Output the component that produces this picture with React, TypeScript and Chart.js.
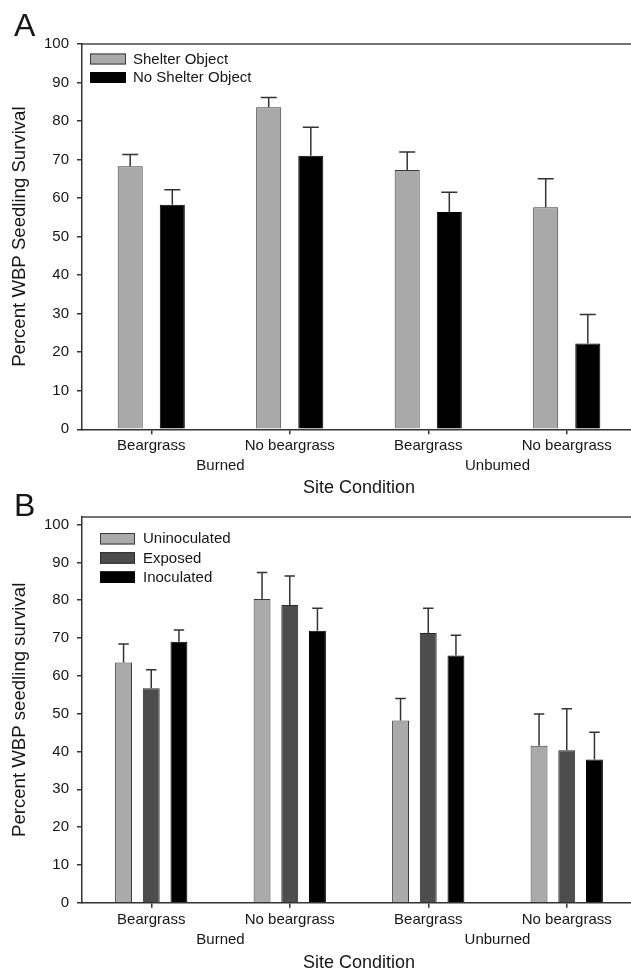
import React, { useEffect, useRef } from 'react';
import { Chart, registerables } from 'chart.js';

Chart.register(...registerables);

// ---------- data ----------
const categories = ['Beargrass', 'No beargrass', 'Beargrass', 'No beargrass'];
const groupLabelsA = ['Burned', 'Unbumed'];
const groupLabelsB = ['Burned', 'Unburned'];

const shelterValues = [68.3, 83.6, 67.3, 57.6];
const shelterErrors = [3.0, 2.5, 4.7, 7.4];
const noShelterValues = [58.3, 71.0, 56.4, 22.3];
const noShelterErrors = [3.9, 7.4, 5.1, 7.5];

const uninoculatedValues = [63.5, 80.3, 48.2, 41.5];
const uninoculatedErrors = [4.9, 7.0, 5.8, 8.4];
const exposedValues = [56.7, 78.7, 71.3, 40.3];
const exposedErrors = [4.9, 7.7, 6.6, 11.0];
const inoculatedValues = [69.0, 71.9, 65.4, 37.9];
const inoculatedErrors = [3.1, 6.0, 5.3, 7.2];

const yTickStep = 10;

const FONT = '"Liberation Sans", Arial, Helvetica, sans-serif';
const TEXT = '#161616';
const AXIS = '#333333';

// ---------- plugins ----------
const errorBarsPlugin = {
  id: 'errorBars',
  afterDatasetsDraw(chart: any, _args: any, opts: any) {
    const { ctx } = chart;
    const yScale = chart.scales.y;
    ctx.save();
    ctx.strokeStyle = opts.color || AXIS;
    ctx.lineWidth = opts.lineWidth || 1.5;
    chart.data.datasets.forEach((ds: any, i: number) => {
      const meta = chart.getDatasetMeta(i);
      meta.data.forEach((bar: any, j: number) => {
        const v = ds.data[j];
        const e = ds.errors ? ds.errors[j] : 0;
        const top = yScale.getPixelForValue(v + e);
        const half = (bar.width * (opts.capRatio || 0.6)) / 2;
        ctx.beginPath();
        ctx.moveTo(bar.x, bar.y);
        ctx.lineTo(bar.x, top);
        ctx.moveTo(bar.x - half, top);
        ctx.lineTo(bar.x + half, top);
        ctx.stroke();
      });
    });
    ctx.restore();
  },
};

const insideLegendPlugin = {
  id: 'insideLegend',
  afterDatasetsDraw(chart: any, _args: any, opts: any) {
    const { ctx, chartArea } = chart;
    ctx.save();
    ctx.font = `${opts.fontSize}px ${FONT}`;
    ctx.textBaseline = 'middle';
    chart.data.datasets.forEach((ds: any, i: number) => {
      const x = chartArea.left + opts.offsetX;
      const y = chartArea.top + opts.offsetY + i * opts.rowGap;
      ctx.fillStyle = ds.backgroundColor;
      ctx.fillRect(x, y, opts.boxW, opts.boxH);
      ctx.strokeStyle = ds.borderColor;
      ctx.lineWidth = 1;
      ctx.strokeRect(x + 0.5, y + 0.5, opts.boxW - 1, opts.boxH - 1);
      ctx.fillStyle = TEXT;
      ctx.fillText(ds.label, x + opts.boxW + opts.textGap, y + opts.boxH / 2 + 0.5);
    });
    ctx.restore();
  },
};

const topFramePlugin = {
  id: 'topFrame',
  afterDraw(chart: any) {
    const { ctx, chartArea } = chart;
    ctx.save();
    ctx.strokeStyle = '#444';
    ctx.lineWidth = 1.5;
    ctx.beginPath();
    ctx.moveTo(chartArea.left, chartArea.top);
    ctx.lineTo(chartArea.right, chartArea.top);
    ctx.stroke();
    ctx.restore();
  },
};

// ---------- config builder ----------
function buildConfig(p: any) {
  return {
    type: 'bar',
    data: {
      labels: categories,
      datasets: p.datasets.map((d: any) => ({
        label: d.label,
        data: d.values,
        errors: d.errors,
        backgroundColor: d.color,
        borderColor: d.border,
        borderWidth: 1,
        categoryPercentage: p.catPct,
        barPercentage: p.barPct,
        xAxisID: 'x',
        yAxisID: 'y',
      })),
    },
    options: {
      responsive: false,
      animation: false,
      layout: { padding: { top: p.padTop, left: 0, right: 0, bottom: 0 } },
      plugins: {
        legend: { display: false },
        tooltip: { enabled: false },
        title: { display: false },
        errorBars: { color: AXIS, lineWidth: 1.5, capRatio: p.capRatio },
        insideLegend: p.legend,
      },
      scales: {
        x: {
          type: 'category',
          offset: true,
          weight: 0,
          grid: { display: true, offset: false, drawOnChartArea: false, drawTicks: true, tickLength: 5, color: AXIS, lineWidth: 1.5 },
          border: { display: true, color: AXIS, width: 1.5 },
          ticks: { color: TEXT, font: { family: FONT, size: 15 }, padding: 3, maxRotation: 0, autoSkip: false },
          afterFit(scale: any) { scale.height = 26; },
        },
        x2: {
          type: 'linear',
          position: 'bottom',
          weight: 1,
          offset: false,
          min: -0.5,
          max: categories.length - 0.5,
          grid: { display: false, offset: false, drawTicks: false },
          border: { display: false },
          afterBuildTicks(scale: any) {
            scale.ticks = p.groups.map((_g: string, k: number) => ({ value: k * 2 + 0.5 }));
          },
          ticks: {
            color: TEXT,
            font: { family: FONT, size: 15 },
            padding: 2,
            maxRotation: 0,
            autoSkip: false,
            callback(value: number) {
              const idx = Math.round((value - 0.5) / 2);
              return p.groups[idx] ?? '';
            },
          },
          title: {
            display: true,
            text: 'Site Condition',
            color: TEXT,
            font: { family: FONT, size: 18 },
            padding: { top: 0, bottom: p.titlePadBottom },
          },
          afterFit(scale: any) { scale.height = p.x2Height; },
        },
        y: {
          type: 'linear',
          min: 0,
          max: p.yMax,
          grid: { display: true, drawOnChartArea: false, drawTicks: true, tickLength: 5, color: AXIS, lineWidth: 1.5 },
          border: { display: true, color: AXIS, width: 1.5 },
          ticks: { stepSize: yTickStep, includeBounds: false, color: TEXT, font: { family: FONT, size: 15 }, padding: 8 },
          title: {
            display: true,
            text: p.yTitle,
            color: TEXT,
            font: { family: FONT, size: 18.6 },
            padding: { top: 9, bottom: 0 },
          },
          afterFit(scale: any) { scale.width = 82; },
        },
      },
    },
    plugins: [errorBarsPlugin, insideLegendPlugin, topFramePlugin],
  };
}

function Panel({ params, width, height }: any) {
  const ref = useRef<HTMLCanvasElement | null>(null);
  useEffect(() => {
    if (!ref.current) return;
    const chart = new Chart(ref.current, buildConfig(params) as any);
    return () => chart.destroy();
  }, [params]);
  return <canvas ref={ref} width={width} height={height} style={{ display: 'block' }} />;
}

const paramsA = {
  datasets: [
    { label: 'Shelter Object', values: shelterValues, errors: shelterErrors, color: '#a9a9a9', border: '#3a3a3a' },
    { label: 'No Shelter Object', values: noShelterValues, errors: noShelterErrors, color: '#000000', border: '#000000' },
  ],
  groups: groupLabelsA,
  catPct: 0.608,
  barPct: 0.595,
  capRatio: 0.64,
  padTop: 44,
  yMax: 100,
  x2Height: 44.7,
  titlePadBottom: 1.2,
  yTitle: 'Percent WBP Seedling Survival',
  legend: { offsetX: 8, offsetY: 9.5, boxW: 36, boxH: 11, rowGap: 18.5, textGap: 7, fontSize: 15 },
};

const paramsB = {
  datasets: [
    { label: 'Uninoculated', values: uninoculatedValues, errors: uninoculatedErrors, color: '#aaaaaa', border: '#3a3a3a' },
    { label: 'Exposed', values: exposedValues, errors: exposedErrors, color: '#4d4d4d', border: '#2a2a2a' },
    { label: 'Inoculated', values: inoculatedValues, errors: inoculatedErrors, color: '#000000', border: '#000000' },
  ],
  groups: groupLabelsB,
  catPct: 0.6,
  barPct: 0.61,
  capRatio: 0.62,
  padTop: 15.7,
  yMax: 102,
  x2Height: 51.3,
  titlePadBottom: 5.9,
  yTitle: 'Percent WBP seedling survival',
  legend: { offsetX: 18, offsetY: 16, boxW: 35, boxH: 11.5, rowGap: 19.2, textGap: 8, fontSize: 15 },
};

export default function App() {
  const letter: any = {
    position: 'absolute',
    left: 14,
    fontFamily: FONT,
    fontSize: 32,
    lineHeight: '32px',
    color: TEXT,
  };
  return (
    <div style={{ position: 'absolute', left: 0, top: 0, width: 631, height: 970, overflow: 'hidden', background: '#fff' }}>
      <div style={{ position: 'absolute', left: 0, top: 0, width: 636, height: 500 }}>
        <Panel params={paramsA} width={636} height={500} />
      </div>
      <div style={{ position: 'absolute', left: 0, top: 500, width: 636, height: 480 }}>
        <Panel params={paramsB} width={636} height={480} />
      </div>
      <div style={{ ...letter, top: 9 }}>A</div>
      <div style={{ ...letter, top: 489 }}>B</div>
    </div>
  );
}
